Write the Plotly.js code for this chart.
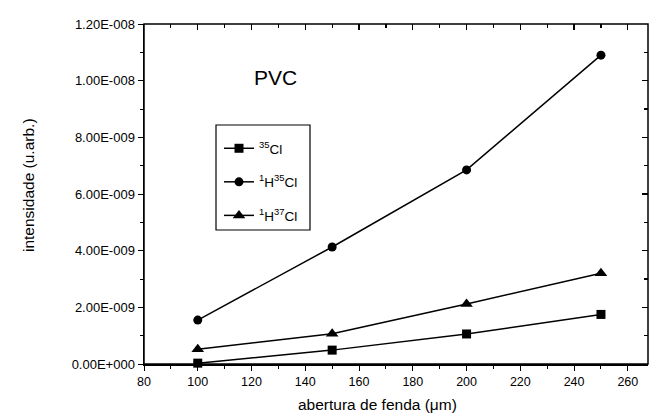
<!DOCTYPE html>
<html>
<head>
<meta charset="utf-8">
<script src="https://cdn.plot.ly/plotly-3.0.1.min.js"></script>
<style>
  html, body { margin: 0; padding: 0; background: #fff; overflow: hidden; }
  #chart { width: 656px; height: 418px; }
</style>
</head>
<body>
<div id="chart"></div>
<script>
// slit aperture (µm)
const abertura = [100, 150, 200, 250];

// measured intensities (arbitrary units)
const cl35 = [0.03e-9, 0.49e-9, 1.06e-9, 1.75e-9];
const h1cl35 = [1.55e-9, 4.13e-9, 6.85e-9, 10.9e-9];
const h1cl37 = [0.52e-9, 1.07e-9, 2.12e-9, 3.2e-9];

const seriesNames = ['<sup>35</sup>Cl', '<sup>1</sup>H<sup>35</sup>Cl', '<sup>1</sup>H<sup>37</sup>Cl'];
const seriesSymbols = ['square', 'circle', 'triangle-up'];

const yTickVals = [0, 2e-9, 4e-9, 6e-9, 8e-9, 1e-8, 1.2e-8];
const yTickText = ['0.00E+000', '2.00E-009', '4.00E-009', '6.00E-009', '8.00E-009', '1.00E-008', '1.20E-008'];
const xTickVals = [80, 100, 120, 140, 160, 180, 200, 220, 240, 260];
const xRange = [80, 267.5];

const FONT = 'Liberation Sans, Arial, sans-serif';

// plot frame in pixels, used to place the paper-anchored decorations
const W = 656, H = 418;
const M = { l: 144, r: 8, t: 24, b: 54 };
const PW = W - M.l - M.r, PH = H - M.t - M.b;
const px = x => (x - M.l) / PW;
const py = y => (H - M.b - y) / PH;

const seriesValues = [cl35, h1cl35, h1cl37];
const traces = seriesValues.map((vals, i) => ({
  x: abertura,
  y: vals,
  type: 'scatter',
  mode: 'lines+markers',
  name: seriesNames[i],
  legendgroup: 'g' + i,
  line: { color: '#000', width: 1.5 },
  marker: { symbol: seriesSymbols[i], size: i === 2 ? 11 : 9, color: '#000' },
  cliponaxis: false,
  hoverinfo: 'skip'
}));

// transparent copy on the companion axes so the top/right inward ticks get drawn
traces.push({
  x: abertura, y: h1cl35, xaxis: 'x2', yaxis: 'y2', type: 'scatter', mode: 'markers',
  marker: { opacity: 0 }, showlegend: false, hoverinfo: 'skip'
});

const layout = {
  width: W,
  height: H,
  margin: M,
  paper_bgcolor: '#fff',
  plot_bgcolor: '#fff',
  font: { family: FONT, color: '#000', size: 12 },
  showlegend: true,
  legend: {
    x: px(219), y: py(133), xanchor: 'left', yanchor: 'top',
    borderwidth: 0, bgcolor: 'rgba(0,0,0,0)',
    font: { family: FONT, size: 13.5, color: '#000' },
    tracegroupgap: 13,
    itemwidth: 30
  },
  xaxis: {
    range: xRange,
    tickmode: 'array', tickvals: xTickVals,
    ticks: 'outside', ticklen: 5, tickwidth: 1, tickcolor: '#000',
    minor: { dtick: 10, tick0: 80, ticks: 'outside', ticklen: 3, tickcolor: '#000' },
    showline: true, linecolor: '#000', linewidth: 1.5,
    showgrid: false, zeroline: false,
    tickfont: { family: FONT, size: 12.5 }
  },
  yaxis: {
    range: [0, 1.2e-8],
    tickmode: 'array', tickvals: yTickVals, ticktext: yTickText,
    ticks: 'outside', ticklen: 5, tickwidth: 1, tickcolor: '#000',
    minor: { dtick: 1e-9, tick0: 0, ticks: 'outside', ticklen: 3, tickcolor: '#000' },
    showline: true, linecolor: '#000', linewidth: 1.5,
    showgrid: false, zeroline: false,
    tickfont: { family: FONT, size: 13 }
  },
  xaxis2: {
    overlaying: 'x', side: 'top', anchor: 'y2',
    range: xRange,
    tickmode: 'array', tickvals: xTickVals, showticklabels: false,
    ticks: 'inside', ticklen: 6, tickwidth: 1.2, tickcolor: '#000',
    minor: { dtick: 10, tick0: 80, ticks: 'inside', ticklen: 4, tickcolor: '#000' },
    showline: false, showgrid: false, zeroline: false
  },
  yaxis2: {
    overlaying: 'y', side: 'right', anchor: 'x2',
    range: [0, 1.2e-8],
    tickmode: 'array', tickvals: yTickVals, showticklabels: false,
    ticks: 'inside', ticklen: 6, tickwidth: 1.2, tickcolor: '#000',
    minor: { dtick: 1e-9, tick0: 0, ticks: 'inside', ticklen: 4, tickcolor: '#000' },
    showline: false, showgrid: false, zeroline: false
  },
  shapes: [
    {
      // plot frame
      type: 'rect', xref: 'paper', yref: 'paper',
      x0: 0, x1: 1, y0: 0, y1: 1,
      line: { color: '#000', width: 1.5 }, fillcolor: 'rgba(0,0,0,0)', layer: 'above'
    },
    {
      // legend frame
      type: 'rect', xref: 'paper', yref: 'paper',
      x0: px(216), x1: px(310), y0: py(230), y1: py(125),
      line: { color: '#000', width: 1.2 }, fillcolor: 'rgba(0,0,0,0)', layer: 'above'
    }
  ],
  annotations: [
    {
      text: 'PVC', xref: 'paper', yref: 'paper',
      x: px(275), y: py(77),
      xanchor: 'center', yanchor: 'middle', showarrow: false,
      font: { family: FONT, size: 21, color: '#000' }
    },
    {
      text: 'abertura de fenda (μm)', xref: 'paper', yref: 'paper',
      x: px(377), y: py(404),
      xanchor: 'center', yanchor: 'middle', showarrow: false,
      font: { family: FONT, size: 15.5, color: '#000' }
    },
    {
      text: 'intensidade (u.arb.)', xref: 'paper', yref: 'paper',
      x: px(28), y: py(185), textangle: -90,
      xanchor: 'center', yanchor: 'middle', showarrow: false,
      font: { family: FONT, size: 15.5, color: '#000' }
    }
  ]
};

Plotly.newPlot('chart', traces, layout, { staticPlot: true, displayModeBar: false });
</script>
</body>
</html>
